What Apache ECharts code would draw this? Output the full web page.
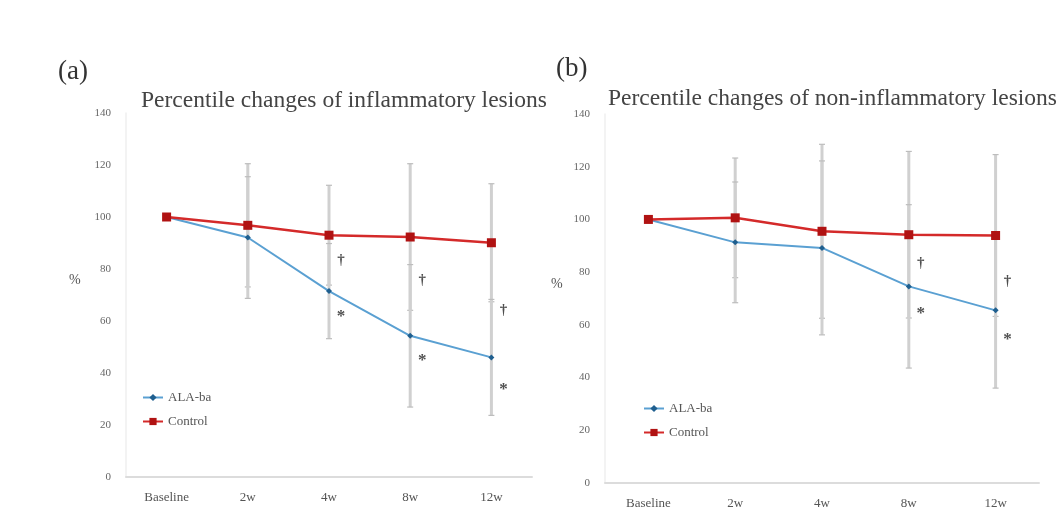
<!DOCTYPE html>
<html>
<head>
<meta charset="utf-8">
<script src="https://cdn.jsdelivr.net/npm/echarts@6/dist/echarts.min.js"></script>
<style>
html,body{margin:0;padding:0;background:#fff;}
#c{width:1060px;height:520px;}
</style>
</head>
<body>
<div id="c"></div>
<script>
// ---- data ----
const categories = ['Baseline', '2w', '4w', '8w', '12w'];
const yTicks = [0, 20, 40, 60, 80, 100, 120, 140];

// panel (a): inflammatory lesions
const aAla = [100, 92.1, 71.5, 54.3, 46.0];
const aCtrl = [100, 96.8, 93.0, 92.3, 90.1];
const aAlaSd = [0, 23.4, 18.3, 27.4, 22.3];
const aCtrlSd = [0, 23.7, 19.2, 28.2, 22.7];
const aDagger = [[2, 83.3], [3, 75.6], [4, 64.1]];
const aStar = [[2, 62.9], [3, 46.1], [4, 34.6]];

// panel (b): non-inflammatory lesions
const bAla = [100, 91.3, 89.2, 74.6, 65.5];
const bCtrl = [100, 100.6, 95.5, 94.2, 93.9];
const bAlaSd = [0, 22.9, 33.0, 31.0, 29.5];
const bCtrlSd = [0, 22.7, 33.0, 31.6, 30.7];
const bDagger = [[3, 83.5], [4, 76.5]];
const bStar = [[3, 65.5], [4, 55.6]];

const titleA = 'Percentile changes of inflammatory lesions';
const titleB = 'Percentile changes of non-inflammatory lesions';

// ---- helpers ----
const FONT = '"Liberation Serif", "DejaVu Serif", serif';
const BLUE_LINE = '#5aa0d2';
const BLUE_MARK = '#1f5f8f';
const RED_LINE = '#d42a2a';
const RED_MARK = '#b01212';

function errData(mean, sd) {
  const out = [];
  for (let i = 0; i < mean.length; i++) {
    if (sd[i] > 0) out.push([i, mean[i] - sd[i], mean[i] + sd[i]]);
  }
  return out;
}

function errRender(params, api) {
  const x = api.value(0);
  const pLo = api.coord([x, api.value(1)]);
  const pHi = api.coord([x, api.value(2)]);
  const st = { stroke: '#d0d0d0', lineWidth: 3 };
  const cw = 3;
  return {
    type: 'group',
    children: [
      { type: 'line', shape: { x1: pLo[0], y1: pLo[1], x2: pHi[0], y2: pHi[1] }, style: st },
      { type: 'line', shape: { x1: pLo[0] - cw, y1: pLo[1], x2: pLo[0] + cw, y2: pLo[1] }, style: { stroke: '#bdbdbd', lineWidth: 1.2 } },
      { type: 'line', shape: { x1: pHi[0] - cw, y1: pHi[1], x2: pHi[0] + cw, y2: pHi[1] }, style: { stroke: '#bdbdbd', lineWidth: 1.2 } }
    ]
  };
}

function xAxisFor(gi) {
  return {
    type: 'category', gridIndex: gi, data: categories, boundaryGap: true,
    axisTick: { show: false },
    axisLine: { lineStyle: { color: '#dcdcdc', width: 2 } },
    axisLabel: { fontFamily: FONT, fontSize: 13, color: '#555', margin: 14 }
  };
}
function yAxisFor(gi) {
  return {
    type: 'value', gridIndex: gi, min: yTicks[0], max: yTicks[yTicks.length - 1], interval: 20,
    splitLine: { show: false },
    axisTick: { show: false },
    axisLine: { show: true, lineStyle: { color: '#efefef', width: 1.5 } },
    axisLabel: { fontFamily: FONT, fontSize: 11, color: '#666', margin: 15 }
  };
}

function panelSeries(gi, ala, ctrl, alaSd, ctrlSd, dagger, star) {
  return [
    { name: 'errCtrl' + gi, type: 'custom', xAxisIndex: gi, yAxisIndex: gi, renderItem: errRender, data: errData(ctrl, ctrlSd), z: 1, silent: true },
    { name: 'errAla' + gi, type: 'custom', xAxisIndex: gi, yAxisIndex: gi, renderItem: errRender, data: errData(ala, alaSd), z: 1, silent: true },
    { name: 'ALA-ba', type: 'line', xAxisIndex: gi, yAxisIndex: gi, data: ala, z: 3,
      symbol: 'diamond', symbolSize: 6,
      lineStyle: { color: BLUE_LINE, width: 2 }, itemStyle: { color: BLUE_MARK } },
    { name: 'Control', type: 'line', xAxisIndex: gi, yAxisIndex: gi, data: ctrl, z: 4,
      symbol: 'rect', symbolSize: 9,
      lineStyle: { color: RED_LINE, width: 2.5 }, itemStyle: { color: RED_MARK } },
    { name: 'dagger' + gi, type: 'scatter', xAxisIndex: gi, yAxisIndex: gi, data: dagger, symbolSize: 2, z: 5,
      itemStyle: { color: 'rgba(0,0,0,0)' },
      label: { show: true, position: 'inside', offset: [12, 0], formatter: '†', fontFamily: FONT, fontSize: 15, fontWeight: 'bold', color: '#222' } },
    { name: 'star' + gi, type: 'scatter', xAxisIndex: gi, yAxisIndex: gi, data: star, symbolSize: 2, z: 5,
      itemStyle: { color: 'rgba(0,0,0,0)' },
      label: { show: true, position: 'inside', offset: [12, 3], formatter: '*', fontFamily: FONT, fontSize: 17, fontWeight: 'bold', color: '#222' } }
  ];
}

const chart = echarts.init(document.getElementById('c'), null, { renderer: 'canvas' });
const option = {
  backgroundColor: '#fff',
  animation: false,
  title: [
    { text: '(a)', left: 53, top: 53, textStyle: { fontFamily: FONT, fontSize: 27, fontWeight: 'normal', color: '#333' } },
    { text: titleA, left: 136, top: 84, textStyle: { fontFamily: FONT, fontSize: 23.5, fontWeight: 'normal', color: '#444' } },
    { text: '(b)', left: 551, top: 50, textStyle: { fontFamily: FONT, fontSize: 27, fontWeight: 'normal', color: '#333' } },
    { text: titleB, left: 603, top: 82, textStyle: { fontFamily: FONT, fontSize: 23.5, fontWeight: 'normal', color: '#444' } },
    { text: '%', left: 64, top: 268, textStyle: { fontFamily: FONT, fontSize: 14, fontWeight: 'normal', color: '#555' } },
    { text: '%', left: 546, top: 272, textStyle: { fontFamily: FONT, fontSize: 14, fontWeight: 'normal', color: '#555' } }
  ],
  legend: [
    { data: ['ALA-ba', 'Control'], orient: 'vertical', left: 137, top: 386, itemGap: 11, itemWidth: 20, itemHeight: 9,
      textStyle: { fontFamily: FONT, fontSize: 13, color: '#555' } },
    { data: ['ALA-ba', 'Control'], orient: 'vertical', left: 638, top: 397, itemGap: 11, itemWidth: 20, itemHeight: 9,
      textStyle: { fontFamily: FONT, fontSize: 13, color: '#555' } }
  ],
  grid: [
    { left: 126, top: 113, width: 406, height: 364 },
    { left: 605, top: 114, width: 434, height: 369 }
  ],
  xAxis: [xAxisFor(0), xAxisFor(1)],
  yAxis: [yAxisFor(0), yAxisFor(1)],
  series: [].concat(
    panelSeries(0, aAla, aCtrl, aAlaSd, aCtrlSd, aDagger, aStar),
    panelSeries(1, bAla, bCtrl, bAlaSd, bCtrlSd, bDagger, bStar)
  )
};
chart.setOption(option);
</script>
</body>
</html>
